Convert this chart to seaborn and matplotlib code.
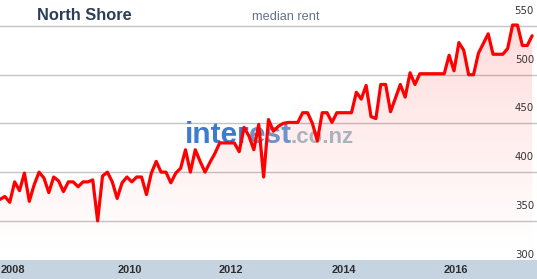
import numpy as np
import pandas as pd
import matplotlib
matplotlib.use("Agg")
import matplotlib.pyplot as plt
import seaborn as sns

# ---- data ----
median_rent = [
    372, 375, 369, 390, 381, 399, 370, 387, 400, 394,
    379, 395, 391, 380, 390, 390, 385, 390, 390, 392,
    350, 396, 400, 390, 373, 389, 395, 390, 395, 395,
    377, 399, 411, 400, 400, 389, 399, 404, 423, 400,
    423, 411, 400, 410, 419, 430, 430, 430, 430, 421,
    446, 437, 423, 449, 395, 454, 442, 447, 450, 451,
    451, 451, 461, 461, 450, 432, 461, 461, 451, 461,
    461, 461, 461, 482, 475, 489, 457, 455, 490, 490,
    462, 476, 490, 477, 502, 490, 501, 501, 501, 501,
    501, 501, 520, 504, 533, 525, 500, 500, 522, 532,
    542, 521, 521, 521, 527, 551, 551, 530, 530, 540,
]
year_labels = ["2008", "2010", "2012", "2014", "2016"]
year_tick_pos = [2.7, 26.6, 47.3, 70.4, 93.4]
y_ticks = [300, 350, 400, 450, 500, 550]

df = pd.DataFrame({"t": np.arange(len(median_rent)), "rent": median_rent})

sns.set_style("white")
plt.rcParams["font.family"] = ["Liberation Sans", "DejaVu Sans"]

W, H = 537, 279
fig = plt.figure(figsize=(W / 100, H / 100), dpi=100)
ax = fig.add_axes([0, 0, 1, 1])

ybot, ytop = 290.3, 576.7
xmin, xmax = 0, 110.0
ax.set_xlim(xmin, xmax)
ax.set_ylim(ybot, ytop)
ax.set_axis_off()

# gridlines
for v in y_ticks:
    ax.axhline(v, color="#c4c4c4", lw=1.0, zorder=1)

# gradient fill under line
poly = ax.fill_between(df["t"], df["rent"], ybot, facecolor="none", edgecolor="none")
ny = 256
vals = np.linspace(ybot, ytop, ny)
alpha = np.clip(0.02 + (vals - 350) * 0.0006, 0, 0.2)
grad = np.zeros((ny, 2, 4))
grad[..., 0] = 1.0
grad[..., 3] = alpha[:, None]
im = ax.imshow(grad, extent=[xmin, xmax, ybot, ytop], origin="lower",
               aspect="auto", zorder=1.2, interpolation="bilinear")
im.set_clip_path(poly.get_paths()[0], transform=ax.transData)

# watermark
ax.text(185 / W, 1 - 143 / H, "inter", transform=ax.transAxes, fontsize=21.5,
        fontweight="heavy", color="#3d7bcc", va="baseline", ha="left", zorder=1.5,
        family="Liberation Sans")
ax.text(249 / W, 1 - 143 / H, "est", transform=ax.transAxes, fontsize=21.5,
        fontweight="heavy", color="#6f93c6", va="baseline", ha="left", zorder=1.5,
        family="Liberation Sans")
ax.text(291 / W, 1 - 143 / H, ".co.nz", transform=ax.transAxes, fontsize=16,
        fontweight="bold", color="#aab2bb", va="baseline", ha="left", zorder=1.5,
        family="Liberation Sans")

# line
sns.lineplot(data=df, x="t", y="rent", ax=ax, color="#ff0000", linewidth=2.3,
             zorder=3)
ax.set_axis_off()

# y labels above gridlines on the right
for v in y_ticks:
    ax.annotate(str(v), xy=(1, v), xycoords=("axes fraction", "data"),
                xytext=(-3, 15), textcoords="offset pixels", ha="right",
                va="center", fontsize=7.3, color="#333333", zorder=5,
                family="DejaVu Sans")

# bottom band
band_top = 300 + (269.5 - 260) / 0.974
ax.axhspan(ybot, band_top, color="#c6d4e2", zorder=4, lw=0)
for lab, pos in zip(year_labels, year_tick_pos):
    ax.text(pos, (ybot + band_top) / 2, lab, ha="center", va="center",
            fontsize=7.9, fontweight="bold", color="#2e2e2e", zorder=5)

# title texts
fig.text(37 / W, 1 - 20 / H, "North Shore", fontsize=11.8, fontweight="bold",
         color="#2c3e55", va="baseline", ha="left")
fig.text(252 / W, 1 - 20 / H, "median rent", fontsize=9.2, color="#62738a",
         va="baseline", ha="left")

fig.savefig("out.png", dpi=100)
